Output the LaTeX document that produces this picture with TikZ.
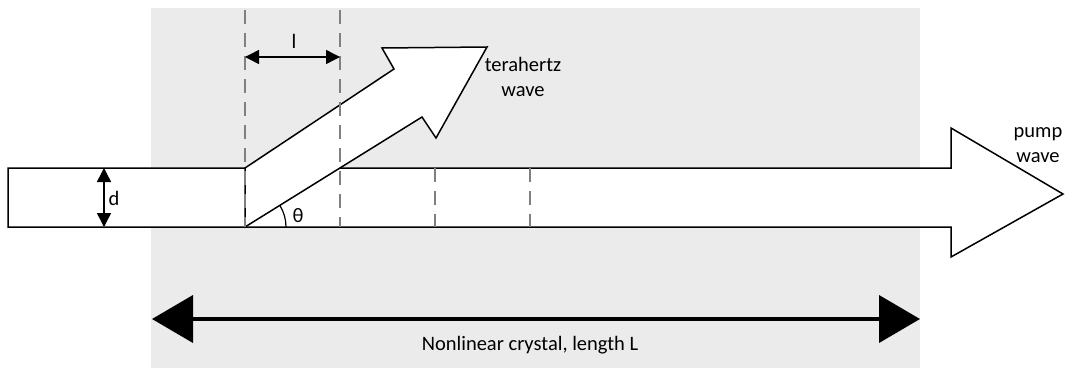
\documentclass[tikz,border=0pt]{standalone}
\usepackage{fontspec}
\setmainfont{Carlito}
\usetikzlibrary{arrows.meta}
\definecolor{crystal}{RGB}{235,235,235}
\definecolor{guidegray}{RGB}{128,128,128}
\begin{document}
\begin{tikzpicture}[x=1pt,y=-1pt,
  beam/.style={draw=black,fill=white,line width=1.5pt,line join=miter},
  guide/.style={draw=guidegray,line width=1.5pt,dash pattern=on 14pt off 9pt},
  dimarrow/.style={line width=1.5pt,{Triangle[length=14pt,width=14pt]}-{Triangle[length=14pt,width=14pt]}},
  bigarrow/.style={line width=4pt,{Triangle[length=41pt,width=47pt]}-{Triangle[length=41pt,width=47pt]}},
  lbl/.style={font=\fontsize{20.5}{24.6}\selectfont,inner sep=0pt,align=center}]
\useasboundingbox (0,0) rectangle (1065,369);
% crystal
\fill[crystal] (151,8) rectangle (920,368);
% pump wave arrow
\draw[beam] (8,168) -- (951,168) -- (951,128) -- (1063,194) -- (951,257) -- (951,227) -- (8,227) -- cycle;
% terahertz wave arrow
\draw[beam] (245,227) -- (422,117) -- (436,138) -- (487,47) -- (382,48) -- (394,69) -- (245,168) -- cycle;
% guide lines
\coordinate (g1t) at (245,10);  \coordinate (g1b) at (245,227);
\coordinate (g2t) at (340,10);  \coordinate (g2b) at (340,227);
\coordinate (g3t) at (435,168); \coordinate (g3b) at (435,227);
\coordinate (g4t) at (530,168); \coordinate (g4b) at (530,227);
\draw[guide] (g1t) -- (g1b);
\draw[guide] (g2t) -- (g2b);
\draw[guide] (g3t) -- (g3b);
\draw[guide] (g4t) -- (g4b);
% l dimension
\coordinate (la) at (245,57); \coordinate (lb) at (340,57);
\draw[dimarrow] (la) -- (lb);
\node[lbl] (ltext) at (294,41) {l};
% d dimension
\coordinate (da) at (104,168); \coordinate (db) at (104,227);
\draw[dimarrow] (da) -- (db);
\node[lbl] (dtext) at (114,198) {d};
% theta
\coordinate (o) at (245,227);
\draw[line width=1.2pt] (286,227) arc[start angle=0,end angle=-31.8,radius=41];
\node[lbl] (ttext) at (298,216) {θ};
% labels
\node[lbl] (thz) at (523,77) {terahertz\\wave};
\node[lbl] (pump) at (1038,145) {pump\\wave};
% crystal length
\coordinate (ca) at (152,319); \coordinate (cb) at (920,319);
\draw[bigarrow] (ca) -- (cb);
\node[lbl,anchor=base] (ctext) at (530,350) {Nonlinear crystal, length L};
\end{tikzpicture}
\end{document}
